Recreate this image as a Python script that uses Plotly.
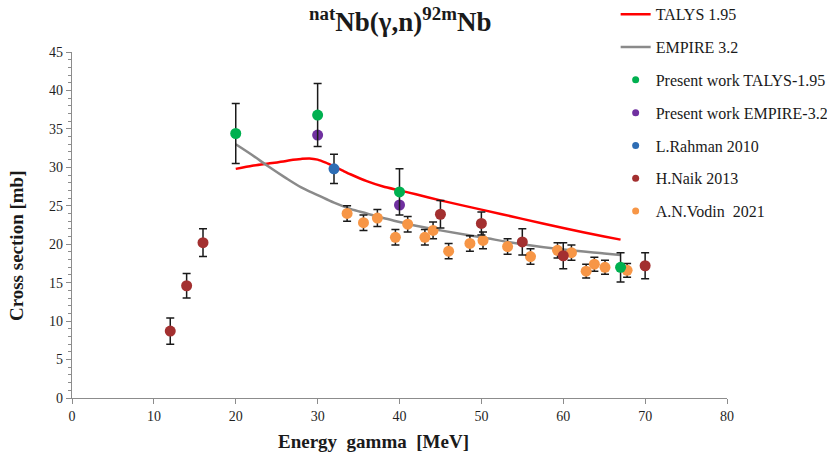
import plotly.graph_objects as go

# --- model curves -----------------------------------------------------------
talys_e = [20, 22, 24, 26, 27, 28, 29, 30, 31, 32, 33, 34, 36, 38, 40, 42, 45, 50, 55, 60, 65, 67]
talys_xs = [29.8, 30.2, 30.5, 30.8, 31.0, 31.1, 31.15, 31.0, 30.6, 30.1, 29.6, 29.1, 28.2,
            27.5, 27.0, 26.5, 25.7, 24.5, 23.3, 22.1, 21.0, 20.6]

empire_e = [20, 22, 24, 26, 28, 30, 32, 34, 36, 38, 40, 42, 45, 50, 55, 60, 65, 67]
empire_xs = [33.0, 31.6, 30.1, 28.7, 27.4, 26.4, 25.4, 24.6, 24.0, 23.4, 22.9, 22.4, 21.8,
             20.9, 20.0, 19.3, 18.8, 18.6]

# --- measurements -----------------------------------------------------------
pw_talys_e = [20, 30, 40, 67]
pw_talys_xs = [34.4, 36.8, 26.8, 17.0]
pw_talys_err = [3.9, 4.1, 3.0, 1.9]

pw_empire_e = [30, 40]
pw_empire_xs = [34.2, 25.1]

rahman_e = [32]
rahman_xs = [29.8]
rahman_err = [1.9]

naik_e = [12, 14, 16, 45, 50, 55, 60, 70]
naik_xs = [8.7, 14.6, 20.2, 23.9, 22.7, 20.3, 18.5, 17.2]
naik_err = [1.7, 1.6, 1.8, 1.8, 1.5, 1.7, 1.7, 1.7]

vodin_e = [33.6, 35.6, 37.3, 39.5, 41.0, 43.1, 44.1, 46.0, 48.6, 50.2, 53.2, 56.0, 59.3,
           61.0, 62.8, 63.8, 65.1, 67.8]
vodin_xs = [24.0, 22.8, 23.4, 20.9, 22.6, 20.9, 21.8, 19.1, 20.1, 20.5, 19.7, 18.4, 19.2,
            18.9, 16.5, 17.4, 17.0, 16.6]
vodin_err = [1.0, 1.0, 1.1, 1.0, 1.0, 1.0, 1.1, 1.0, 1.0, 1.1, 1.0, 1.0, 1.0,
             1.0, 0.9, 0.9, 0.9, 0.9]

GREEN = "#00b050"
PURPLE = "#7030a0"
BLUE = "#2e6db4"
BROWN = "#a33030"
ORANGE = "#f79646"
SERIF = "Liberation Serif"

fig = go.Figure()

fig.add_trace(go.Scatter(x=talys_e, y=talys_xs, mode="lines", name="TALYS 1.95",
                         line=dict(color="#ff0000", width=2.5, shape="spline", smoothing=0.6),
                         legendgroup="g1", legendrank=1))
fig.add_trace(go.Scatter(x=empire_e, y=empire_xs, mode="lines", name="EMPIRE 3.2",
                         line=dict(color="#8a8a8a", width=2.5, shape="spline"),
                         legendgroup="g2", legendrank=2))


def points(xs, ys, err, color, name, rank):
    eb = None
    if err is not None:
        eb = dict(type="data", array=err, visible=True, color="#1a1a1a",
                  thickness=1.5, width=4)
    fig.add_trace(go.Scatter(x=xs, y=ys, mode="markers", error_y=eb,
                             marker=dict(color=color, size=11), showlegend=False,
                             legendgroup=f"g{rank}"))
    # small legend glyph
    fig.add_trace(go.Scatter(x=[None], y=[None], mode="markers", name=name,
                             marker=dict(color=color, size=7), legendrank=rank,
                             legendgroup=f"g{rank}"))


points(vodin_e, vodin_xs, vodin_err, ORANGE, "A.N.Vodin  2021", 7)
points(naik_e, naik_xs, naik_err, BROWN, "H.Naik 2013", 6)
points(rahman_e, rahman_xs, rahman_err, BLUE, "L.Rahman 2010", 5)
points(pw_empire_e, pw_empire_xs, None, PURPLE, "Present work EMPIRE-3.2", 4)
points(pw_talys_e, pw_talys_xs, pw_talys_err, GREEN, "Present work TALYS-1.95", 3)

fig.update_layout(
    width=827, height=457,
    margin=dict(l=72, r=100, t=52, b=59, autoexpand=False),
    paper_bgcolor="white", plot_bgcolor="white",
    font=dict(family=SERIF, size=14, color="#1f1f1f"),
    title=dict(text="<b><sup>nat</sup>Nb(γ,n)<sup>92m</sup>Nb</b>", x=0.484, xanchor="center",
               y=0.952, yanchor="middle", font=dict(family=SERIF, size=27, color="#1a1a1a")),
    showlegend=True,
    legend=dict(x=0.83, xref="paper", y=1.158, yanchor="top", xanchor="left",
                bgcolor="rgba(0,0,0,0)", font=dict(family=SERIF, size=16, color="#1a1a1a"),
                tracegroupgap=9, traceorder="grouped"),
    xaxis=dict(range=[0, 80], dtick=10, showgrid=False, zeroline=False,
               showline=True, linecolor="#8c8c8c", linewidth=1.2,
               ticks="outside", ticklen=5, tickcolor="#8c8c8c",
               tickfont=dict(family=SERIF, size=14, color="#1f1f1f")),
    yaxis=dict(range=[0, 45], dtick=5, showgrid=False, zeroline=False,
               showline=True, linecolor="#8c8c8c", linewidth=1.2,
               ticks="outside", ticklen=5, tickcolor="#8c8c8c",
               minor=dict(dtick=1, ticks="outside", ticklen=3, tickcolor="#8c8c8c"),
               tickfont=dict(family=SERIF, size=14, color="#1f1f1f")),
    annotations=[
        dict(text="<b>Energy  gamma  [MeV]</b>", xref="paper", yref="paper",
             x=0.46, y=-0.09, xanchor="center", yanchor="top", showarrow=False,
             font=dict(family=SERIF, size=19, color="#1a1a1a")),
        dict(text="<b>Cross section [mb]</b>", xref="paper", yref="paper",
             x=-0.085, y=0.44, xanchor="center", yanchor="middle", showarrow=False,
             textangle=-90, font=dict(family=SERIF, size=19, color="#1a1a1a")),
    ],
)

fig.write_html("out.html")
